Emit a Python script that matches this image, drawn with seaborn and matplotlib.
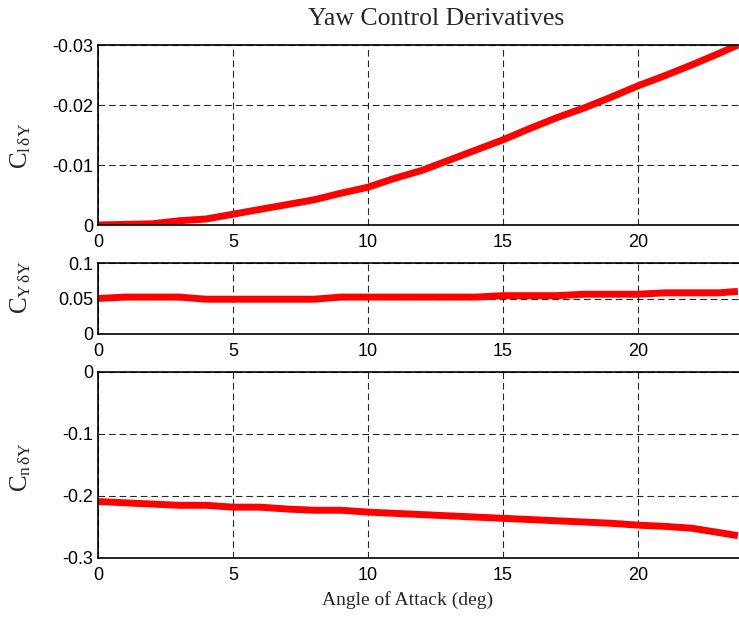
import matplotlib
matplotlib.use("Agg")
import matplotlib.pyplot as plt
import seaborn as sns
import pandas as pd

# Angle of attack breakpoints (deg)
alpha = [0, 1, 2, 3, 4, 5, 6, 7, 8, 9, 10, 11, 12, 13, 14, 15, 16, 17, 18, 19,
         20, 21, 22, 23, 23.7]

# Rolling moment due to yaw control
cl_dy = [0.0, -0.0001, -0.0002, -0.0007, -0.0010, -0.0018, -0.0026, -0.0034,
         -0.0042, -0.0053, -0.0063, -0.0078, -0.0091, -0.0108, -0.0125, -0.0142,
         -0.0161, -0.0179, -0.0195, -0.0213, -0.0232, -0.0249, -0.0267, -0.0286,
         -0.0300]

# Side force due to yaw control
cy_dy = [0.050, 0.052, 0.052, 0.052, 0.049, 0.049, 0.049, 0.049, 0.049, 0.052,
         0.052, 0.052, 0.052, 0.052, 0.052, 0.054, 0.054, 0.054, 0.056, 0.056,
         0.056, 0.058, 0.058, 0.058, 0.060]

# Yawing moment due to yaw control
cn_dy = [-0.209, -0.211, -0.213, -0.215, -0.215, -0.218, -0.218, -0.221, -0.223,
         -0.223, -0.226, -0.228, -0.230, -0.232, -0.234, -0.236, -0.238, -0.240,
         -0.242, -0.244, -0.247, -0.249, -0.252, -0.259, -0.264]

x_ticks = [0, 5, 10, 15, 20]
cl_ticks = [0, -0.01, -0.02, -0.03]
cl_labels = ["0", "-0.01", "-0.02", "-0.03"]
cy_ticks = [0, 0.05, 0.1]
cy_labels = ["0", "0.05", "0.1"]
cn_ticks = [0, -0.1, -0.2, -0.3]
cn_labels = ["0", "-0.1", "-0.2", "-0.3"]

title = "Yaw Control Derivatives"
xlabel = "Angle of Attack (deg)"

sns.set_style("white")
plt.rcParams["font.family"] = ["Liberation Sans", "DejaVu Sans"]
plt.rcParams["mathtext.fontset"] = "custom"
plt.rcParams["mathtext.rm"] = "Liberation Serif"
plt.rcParams["mathtext.it"] = "Liberation Serif:italic"

df = pd.DataFrame({"alpha": alpha, "cl": cl_dy, "cy": cy_dy, "cn": cn_dy})

fig = plt.figure(figsize=(7.39, 6.17), dpi=100)
FW, FH = 739, 617
AX_L, AX_W = 98, 648
ax1 = fig.add_axes([AX_L / FW, 1 - 225 / FH, AX_W / FW, 180 / FH])
ax2 = fig.add_axes([AX_L / FW, 1 - 334 / FH, AX_W / FW, 71 / FH])
ax3 = fig.add_axes([AX_L / FW, 1 - 558 / FH, AX_W / FW, 186 / FH])

specs = [
    (ax1, "cl", cl_ticks, cl_labels, (0, -0.03), r"$\mathrm{C}_{\mathrm{l\,δY}}$", 0.44),
    (ax2, "cy", cy_ticks, cy_labels, (0, 0.1), r"$\mathrm{C}_{\mathrm{Y\,δY}}$", 0.66),
    (ax3, "cn", cn_ticks, cn_labels, (-0.3, 0), r"$\mathrm{C}_{\mathrm{n\,δY}}$", 0.49),
]

for ax, col, yt, yl, ylim, lab, ly in specs:
    sns.lineplot(data=df, x="alpha", y=col, ax=ax, color="#ff0000",
                 linewidth=5.0, solid_capstyle="butt")
    ax.set_xlim(0, 24)
    ax.set_ylim(*ylim)
    ax.set_xticks(x_ticks)
    ax.set_xticklabels([str(t) for t in x_ticks])
    ax.set_yticks(yt)
    ax.set_yticklabels(yl)
    ax.grid(True, color="black", linestyle=(0, (6, 3.5)), linewidth=0.8, alpha=0.85)
    ax.set_axisbelow(True)
    ax.tick_params(axis="both", direction="in", length=4, width=0.8,
                   labelsize=13, colors="black")
    ax.tick_params(axis="x", pad=6.5)
    ax.tick_params(axis="y", pad=3.5)
    for s in ax.spines.values():
        s.set_color("black")
        s.set_linewidth(1.2)
    ax.set_xlabel("")
    ax.set_ylabel(lab, fontsize=18, labelpad=0)
    ax.yaxis.set_label_coords((33 - AX_L) / AX_W, ly)

fig.text(408 / FW, 1 - 600 / FH, xlabel, fontsize=14,
         family="Liberation Serif", ha="center", va="center")
fig.text(436 / FW, 1 - 19 / FH, title, fontsize=18.5,
         family="Liberation Serif", ha="center", va="center")

fig.savefig("out.png", dpi=100)
